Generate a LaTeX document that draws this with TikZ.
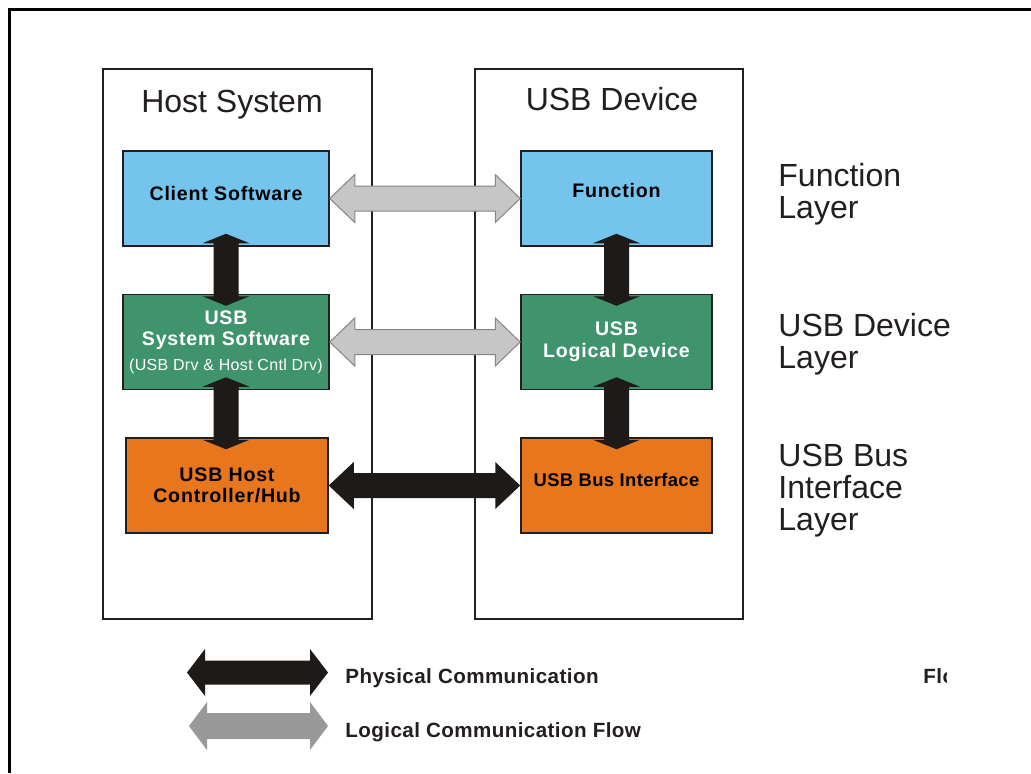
\documentclass[tikz,border=0pt]{standalone}
\usepackage{fontspec}
\setmainfont{Liberation Sans}
\newfontfamily\spacedfont[LetterSpace=4]{Liberation Sans}
\newfontfamily\spacedtwo[LetterSpace=2]{Liberation Sans}
\usetikzlibrary{calc}
\definecolor{cblue}{RGB}{117,196,238}
\definecolor{cgreen}{RGB}{64,148,108}
\definecolor{corange}{RGB}{232,118,28}
\definecolor{cline}{RGB}{35,31,32}
\definecolor{physc}{RGB}{30,26,23}
\definecolor{logfill}{RGB}{198,198,198}
\definecolor{logdraw}{RGB}{140,132,132}
\definecolor{leggray}{RGB}{153,153,153}
% horizontal double block arrow: style, left tip, right tip, shaft half, head half, head length
\newcommand\harrow[6]{%
  \path[#1] let \p1=(#2), \p2=(#3) in
    (\x1,\y1) -- (\x1+#6,\y1+#5) -- (\x1+#6,\y1+#4) -- (\x2-#6,\y1+#4) -- (\x2-#6,\y1+#5)
    -- (\x2,\y1) -- (\x2-#6,\y1-#5) -- (\x2-#6,\y1-#4) -- (\x1+#6,\y1-#4) -- (\x1+#6,\y1-#5) -- cycle;}
% vertical double block arrow: style, top tip, bottom tip, shaft half, head half, head length
\newcommand\varrow[6]{%
  \path[#1] let \p1=(#2), \p2=(#3) in
    (\x1,\y1) -- (\x1+#5,\y1-#6) -- (\x1+#4,\y1-#6) -- (\x1+#4,\y2+#6) -- (\x1+#5,\y2+#6)
    -- (\x1,\y2) -- (\x1-#5,\y2+#6) -- (\x1-#4,\y2+#6) -- (\x1-#4,\y1-#6) -- (\x1-#5,\y1-#6) -- cycle;}
\begin{document}
\begin{tikzpicture}[x=0.5pt,y=-0.5pt,
  bigbox/.style={draw=cline, line width=1pt, inner sep=0pt, minimum height=275pt},
  titletext/.style={text=cline, font=\fontsize{16}{19}\selectfont, inner sep=0pt},
  layertext/.style={text=cline, inner sep=0pt, anchor=base west},
  box/.style={draw=cline, line width=0.75pt, inner sep=0pt, align=center,
    minimum height=47.5pt, font=\spacedfont\bfseries\fontsize{9.8}{10.8}\selectfont},
  physarrow/.style={fill=physc},
  logarrow/.style={fill=logfill, draw=logdraw, line width=0.5pt},
  legarrow/.style={fill=leggray},
  legtext/.style={text=cline, inner sep=0pt, anchor=base west,
    font=\spacedtwo\bfseries\fontsize{10.3}{12}\selectfont}]
\useasboundingbox (0,0) rectangle (1031,773);
\fill[white] (0,0) rectangle (1031,773);
\draw[line width=1.5pt] (9,773) -- (9,9) -- (1031,9);

% system boxes
\node[bigbox, minimum width=134.5pt] (host) at (237.5,344) {};
\node[bigbox, minimum width=134pt] (dev) at (609,344) {};
\node[titletext, anchor=base] (hostt) at (232,112) {Host System};
\node[titletext, anchor=base] (devt) at (612,110) {USB Device};

% layer boxes
\node[box, fill=cblue, minimum width=103pt, text depth=5pt] (cs) at (226,198.5) {Client Software};
\node[box, fill=cgreen, text=white, minimum width=103pt] (ss) at (226,342)
  {USB\\System Software\\[1.5pt]{\spacedtwo\mdseries\fontsize{8}{9}\selectfont (USB Drv \& Host Cntl Drv)}};
\node[box, fill=corange, minimum width=101pt] (hc) at (227,485.5) {USB Host\\Controller/Hub};
\node[box, fill=cblue, minimum width=95.5pt, text depth=8pt] (fn) at (616.5,198.5) {Function};
\node[box, fill=cgreen, text=white, minimum width=95.5pt] (ld) at (616.5,342) {USB\\Logical Device};
\node[box, fill=corange, minimum width=95.5pt, text depth=6pt,
  font=\spacedtwo\bfseries\fontsize{9.2}{10.8}\selectfont] (bi) at (616.5,485.5) {USB Bus Interface};

% layer labels
\node[layertext] (fl) at (778,186) {\fontsize{16}{16}\selectfont\begin{tabular}[t]{@{}l@{}}Function\\Layer\end{tabular}};
\node[layertext] (dl) at (778,336) {\fontsize{16}{16}\selectfont\begin{tabular}[t]{@{}l@{}}USB Device\\Layer\end{tabular}};
\node[layertext] (bl) at (778,466) {\fontsize{16}{16}\selectfont\begin{tabular}[t]{@{}l@{}}USB Bus\\Interface\\Layer\end{tabular}};

% connectors
\harrow{logarrow}{cs.east}{fn.west}{6.25pt}{12pt}{12.5pt}
\harrow{logarrow}{ss.east}{ld.west}{6.25pt}{12pt}{12.5pt}
\harrow{physarrow}{hc.east}{bi.west}{6.25pt}{11.75pt}{12.5pt}
\varrow{physarrow}{$(cs.south)+(0,-13)$}{$(ss.north)+(0,12)$}{6.25pt}{11.75pt}{4.75pt}
\varrow{physarrow}{$(ss.south)+(0,-13)$}{$(hc.north)+(0,12)$}{6.25pt}{11.75pt}{4.75pt}
\varrow{physarrow}{$(fn.south)+(0,-13)$}{$(ld.north)+(0,12)$}{6.25pt}{11.75pt}{4.75pt}
\varrow{physarrow}{$(ld.south)+(0,-13)$}{$(bi.north)+(0,12)$}{6.25pt}{11.75pt}{4.75pt}

% legend
\coordinate (p1) at (187,672.5);
\coordinate (p2) at (328,672.5);
\coordinate (l1) at (189,726);
\coordinate (l2) at (328,726);
\harrow{physarrow}{p1}{p2}{6pt}{11.75pt}{9pt}
\harrow{legarrow}{l1}{l2}{6.5pt}{12pt}{9pt}
\node[legtext] (pt) at (345,683) {Physical Communication};
\node[legtext] (lt) at (345,737) {Logical Communication Flow};
\begin{scope}
  \clip (900,640) rectangle (946,700);
  \node[legtext] (fig) at (923,683) {Flow};
\end{scope}
\end{tikzpicture}
\end{document}
